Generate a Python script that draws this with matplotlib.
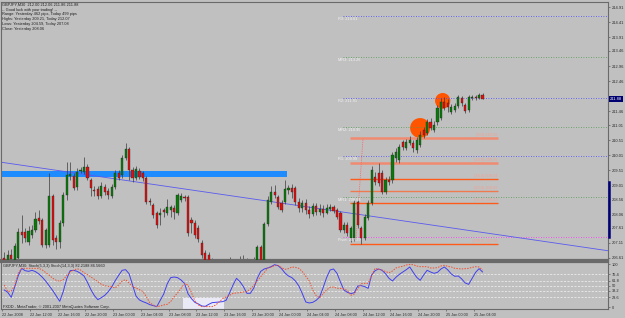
import matplotlib
matplotlib.use('Agg')
import matplotlib.pyplot as plt
import matplotlib.transforms as mtrans
from matplotlib.patches import Ellipse, Rectangle
import numpy as np

# ---------------- data ----------------
opens = [206.61, 206.47, 206.70, 206.54, 206.61, 207.47, 207.47, 207.14, 207.37, 207.53,
         207.93, 207.86, 207.04, 207.04, 208.66, 207.27, 207.14, 207.76, 208.69, 209.32,
         209.32, 208.96, 209.48, 209.45, 209.62, 209.19, 208.86, 208.89, 208.66, 208.96,
         208.82, 208.66, 208.96, 209.42, 209.35, 209.91, 210.21, 209.52, 209.25, 209.48,
         209.42, 209.25, 208.50, 208.36, 208.10, 208.03, 208.20, 208.10, 208.20, 208.27,
         208.10, 208.53, 208.63, 208.63, 207.86, 207.76, 207.60, 207.10, 206.77, 206.70,
         206.47, 206.04, 205.55, 205.22, 204.89, 205.22, 205.55, 205.88, 206.21, 206.47,
         206.27, 206.21, 206.34, 206.54, 206.97, 206.54, 207.73, 208.46, 208.79, 208.63,
         208.43, 208.46, 208.86, 208.92, 208.92, 208.46, 208.27, 208.43, 208.20, 208.06,
         208.33, 208.13, 208.23, 208.10, 208.23, 208.30, 208.20, 208.10, 207.53, 207.70,
         207.27, 207.27, 208.46, 207.60, 207.27, 207.93, 208.43, 209.29, 209.42, 209.42,
         208.79, 209.19, 209.19, 209.91, 209.85, 210.44, 210.24, 210.41, 210.41, 210.18,
         210.34, 210.84, 210.74, 211.10, 210.84, 211.10, 211.24, 211.77, 211.74, 211.44,
         211.50, 211.64, 211.90, 211.67, 211.50, 211.90, 211.93, 211.90, 212.00]
highs = [206.80, 206.87, 206.90, 207.10, 207.60, 208.03, 207.60, 207.67, 207.70, 208.13,
         208.20, 207.93, 207.60, 209.42, 208.73, 207.37, 207.86, 208.79, 209.78, 209.78,
         209.42, 209.58, 209.62, 209.95, 209.71, 209.25, 208.99, 208.99, 209.12, 209.06,
         208.92, 209.06, 209.52, 209.52, 210.01, 210.41, 210.28, 209.62, 209.65, 209.58,
         209.48, 209.32, 208.59, 208.43, 208.17, 208.27, 208.27, 208.56, 208.36, 208.36,
         208.76, 208.76, 208.69, 208.69, 207.96, 207.86, 207.70, 207.20, 206.87, 206.80,
         206.61, 206.14, 205.71, 205.35, 205.35, 206.64, 206.24, 206.47, 206.67, 206.70,
         206.61, 206.54, 206.64, 207.04, 207.04, 207.80, 208.66, 208.99, 209.02, 208.69,
         208.53, 209.19, 209.02, 209.06, 208.99, 208.59, 208.53, 208.56, 208.33, 208.43,
         208.43, 208.40, 208.36, 208.40, 208.40, 208.36, 208.27, 208.17, 207.80, 207.80,
         207.66, 208.53, 208.53, 207.66, 208.06, 208.53, 209.65, 209.45, 209.75, 209.52,
         209.29, 209.32, 210.11, 210.24, 210.38, 210.51, 210.54, 210.64, 210.51, 210.61,
         210.81, 210.94, 211.20, 211.24, 211.14, 211.67, 211.90, 211.93, 211.87, 211.70,
         211.74, 212.00, 211.97, 211.74, 212.00, 212.00, 212.00, 212.07, 212.06]
lows = [206.34, 206.37, 206.44, 206.47, 206.54, 207.10, 207.14, 207.04, 207.27, 207.47,
        207.73, 206.97, 206.94, 206.97, 207.04, 206.90, 206.94, 207.66, 208.53, 209.19,
        208.86, 208.86, 209.42, 209.39, 209.19, 208.66, 208.66, 208.56, 208.59, 208.69,
        208.56, 208.59, 208.89, 209.19, 209.25, 209.85, 209.19, 209.12, 209.19, 209.22,
        209.15, 208.40, 208.36, 207.93, 207.60, 207.70, 207.97, 208.03, 207.97, 207.90,
        208.03, 208.46, 208.50, 207.33, 207.43, 207.27, 207.14, 206.61, 206.47, 206.37,
        205.95, 205.38, 205.05, 204.62, 204.59, 205.05, 205.38, 205.71, 206.01, 206.04,
        205.95, 206.04, 206.14, 206.47, 206.44, 206.47, 207.66, 208.40, 208.59, 208.23,
        208.13, 208.40, 208.73, 208.59, 208.36, 208.13, 208.13, 208.06, 207.93, 207.99,
        208.03, 208.03, 207.96, 208.06, 208.17, 208.10, 207.89, 207.47, 207.43, 207.33,
        207.14, 207.17, 207.60, 207.08, 207.20, 207.86, 208.36, 209.02, 208.99, 208.73,
        208.73, 209.02, 209.09, 209.78, 209.75, 210.18, 210.18, 210.34, 210.11, 210.08,
        210.28, 210.57, 210.67, 210.84, 210.77, 211.00, 211.17, 211.50, 211.44, 211.37,
        211.44, 211.57, 211.64, 211.40, 211.44, 211.84, 211.84, 211.87, 211.86]
closes = [206.47, 206.70, 206.57, 207.00, 207.47, 207.37, 207.27, 207.50, 207.53, 207.90,
          207.83, 207.04, 207.53, 208.66, 207.20, 207.14, 207.76, 208.69, 209.35, 209.39,
          208.92, 209.45, 209.52, 209.62, 209.25, 208.92, 208.82, 208.66, 208.99, 208.79,
          208.69, 208.96, 209.42, 209.25, 209.91, 210.21, 209.52, 209.25, 209.55, 209.29,
          209.25, 208.46, 208.46, 208.03, 207.70, 208.10, 208.13, 208.30, 208.30, 208.13,
          208.69, 208.66, 208.59, 207.43, 207.76, 207.37, 207.24, 206.70, 206.54, 206.47,
          206.04, 205.55, 205.22, 204.89, 205.22, 205.55, 205.88, 206.21, 206.47, 206.27,
          206.21, 206.34, 206.47, 206.97, 206.54, 207.73, 208.53, 208.79, 208.69, 208.30,
          208.20, 208.89, 208.92, 208.79, 208.46, 208.27, 208.43, 208.20, 208.06, 208.33,
          208.13, 208.23, 208.10, 208.27, 208.30, 208.17, 207.96, 207.53, 207.70, 207.43,
          207.60, 208.43, 207.70, 207.27, 207.96, 208.43, 209.52, 209.12, 209.09, 208.79,
          209.19, 209.12, 210.01, 210.11, 210.28, 210.28, 210.44, 210.51, 210.24, 210.51,
          210.67, 210.67, 211.10, 210.90, 211.00, 211.57, 211.77, 211.57, 211.60, 211.60,
          211.64, 211.93, 211.74, 211.47, 211.93, 211.93, 211.90, 212.00, 211.88]

stoch_fast = [40.2, 34.8, 23.2, 47.2, 72.8, 90.6, 85.2, 83.6, 86.0, 82.9,
              77.4, 69.7, 60.4, 49.5, 38.7, 26.3, 13.9, 36.4, 65.8, 85.2,
              86.0, 83.6, 79.0, 72.8, 58.0, 41.0, 27.0, 17.7, 22.4, 27.8,
              36.4, 47.2, 61.9, 74.3, 86.0, 87.5, 78.2, 52.6, 26.3, 17.0,
              13.1, 10.0, 6.1, 3.8, 1.5, 16.2, 30.9, 54.2, 68.9, 70.4,
              68.9, 63.5, 55.7, 31.7, 20.1, 11.5, 7.7, 3.0, 2.2, 6.9,
              10.8, 11.5, 12.3, 13.1, 16.2, 33.2, 51.9, 67.4, 59.6, 48.0,
              32.5, 32.5, 44.9, 67.4, 83.6, 89.1, 91.4, 94.5, 99.1, 96.8,
              89.8, 79.7, 72.8, 68.9, 61.2, 49.5, 31.7, 12.3, 10.0, 11.5,
              16.2, 24.0, 45.7, 68.9, 86.7, 89.1, 79.0, 58.8, 40.2, 34.8,
              31.7, 34.0, 49.5, 50.3, 48.0, 44.1, 75.1, 85.2, 89.1, 86.0,
              78.2, 67.4, 61.2, 69.7, 76.7, 82.1, 87.5, 93.7, 81.3, 69.7,
              62.7, 75.1, 86.0, 82.1, 79.0, 81.3, 89.1, 93.7, 86.7, 77.4,
              72.0, 72.8, 65.8, 56.5, 53.4, 67.4, 81.3, 89.8, 82.22]
stoch_slow = [51.9, 36.4, 37.9, 50.3, 79.0, 90.6, 90.6, 90.6, 90.6, 90.6,
              90.6, 86.7, 80.5, 74.3, 67.4, 62.7, 60.4, 64.2, 73.5, 82.9,
              86.0, 89.8, 86.7, 80.5, 75.9, 70.4, 65.0, 59.6, 53.4, 50.3,
              48.8, 48.0, 44.9, 51.9, 61.2, 64.2, 56.5, 48.0, 44.9, 41.0,
              36.4, 24.7, 10.0, 5.4, 1.5, 3.0, 5.4, 6.9, 13.1, 24.7,
              33.2, 44.1, 54.9, 51.9, 34.0, 14.7, 5.4, 1.5, 1.5, 1.5,
              1.5, 5.4, 12.3, 20.1, 24.0, 27.8, 32.5, 33.2, 34.0, 35.6,
              36.4, 42.5, 51.1, 61.9, 71.2, 80.5, 91.4, 93.7, 96.8, 97.6,
              92.2, 88.3, 89.8, 93.7, 92.9, 90.6, 82.9, 72.0, 61.2, 40.2,
              27.0, 22.4, 31.7, 40.2, 46.4, 47.2, 44.1, 44.1, 42.5, 39.4,
              27.8, 30.9, 43.3, 54.9, 55.7, 55.7, 73.5, 90.6, 88.3, 86.7,
              82.9, 80.5, 84.4, 91.4, 93.7, 95.3, 98.4, 99.5, 99.1, 96.0,
              94.5, 94.5, 94.5, 91.4, 91.4, 92.2, 96.0, 97.6, 95.3, 93.7,
              90.6, 89.8, 89.1, 89.8, 90.6, 92.9, 94.5, 93.7, 86.57]

time_ticks = [0, 8, 16, 24, 32, 40, 48, 56, 64, 72, 80, 88, 96, 104, 112, 120, 128, 136]
time_labels = ["22 Jan 2008", "22 Jan 12:00", "22 Jan 16:00", "22 Jan 20:00", "23 Jan 00:00",
               "23 Jan 04:00", "23 Jan 08:00", "23 Jan 12:00", "23 Jan 16:00", "23 Jan 20:00",
               "24 Jan 00:00", "24 Jan 04:00", "24 Jan 08:00", "24 Jan 12:00", "24 Jan 16:00",
               "24 Jan 20:00", "25 Jan 00:00", "25 Jan 04:00"]
price_ticks = [214.91, 214.41, 213.91, 213.46, 212.96, 212.46, 211.46, 211.01, 210.51,
               210.01, 209.51, 209.01, 208.56, 208.06, 207.61, 207.11, 206.61]
last_price = 211.88
stoch_levels = [76.4, 61.8, 50, 38.2, 23.6]
stoch_ticks = [100, 76.4, 61.8, 50, 38.2, 23.6, 0]
stoch_ticklabels = ["100", "76.4", "61.8", "50", "38.2", "23.6", "0"]

pivot_names = ["R3", "MR3", "R2", "MR2", "R1", "MR1", "Pivot"]
pivot_values = [214.61, 213.26, 211.91, 210.95, 209.99, 208.64, 207.29]
pivot_colors = ['#4a4aff', '#4e9a4e', '#4a4aff', '#4e9a4e', '#4a4aff', '#4e9a4e', '#ff30ff']

fib_levels = [0.0, 23.6, 38.2, 50.0, 61.8, 100.0]
fib_prices = [210.58, 209.75, 209.24, 208.83, 208.42, 207.08]
fib_colors = ['#f08a70', '#f08a70', '#ff5a1a', '#f07a50', '#ff5a1a', '#ff5a1a']
fib_widths = [1.8, 1.8, 1.0, 1.0, 1.0, 1.0]
fib_start, fib_end = 99.8, 142.5
fib_base_x = [101.5, 103.5]
fib_base_y = [207.27, 210.55]

trend_x = [-1.0, 174.2]
trend_y = [209.78, 206.85]
band_x = [-1.0, 81.6]
band_y = [209.30, 209.49]
range_bar = [207.30, 209.12]

circles = [(120.0, 210.91, 5.8, 0.66), (126.5, 211.81, 4.4, 0.52)]
stoch_box = (51.6, 63.4, -4.0, 21.6)

info_lines = ["GBPJPY,M30  212.00 212.06 211.86 211.88",
              "-- Good luck with your trading! --",
              "Range: Yesterday 462 pips, Today 499 pips",
              "Highs: Yesterday 209.21, Today 212.07",
              "Lows: Yesterday 204.59, Today 207.08",
              "Close: Yesterday 208.06"]

# ---------------- figure ----------------
W, H = 625, 318
BG = '#c0c0c0'
plt.rcParams['font.family'] = ['Liberation Sans', 'DejaVu Sans']
fig = plt.figure(figsize=(W / 100, H / 100), dpi=100, facecolor=BG)

def px(l, t, r, b):
    return [l / W, 1 - b / H, (r - l) / W, (b - t) / H]

ax = fig.add_axes(px(1, 2, 608, 259.5))
ax2 = fig.add_axes(px(1, 261.5, 608, 309), sharex=ax)
for a in (ax, ax2):
    a.set_facecolor(BG)
    for s in a.spines.values():
        s.set_color('#6a6a6a')
        s.set_linewidth(0.8)
ax.spines['bottom'].set_linewidth(1.6)
ax2.spines['top'].set_linewidth(1.6)

ax.set_xlim(-0.95, 174.2)
ax.set_ylim(206.56, 215.08)
ax2.set_ylim(-4.0, 106.5)

x = np.arange(len(opens))
o = np.array(opens); c = np.array(closes); h = np.array(highs); l = np.array(lows)

# background objects
ax.add_patch(Rectangle((band_x[0], band_y[0]), band_x[1] - band_x[0], band_y[1] - band_y[0],
                       facecolor='#1e8cff', edgecolor='none', zorder=1))
ax.plot(trend_x, trend_y, color='#5a5af0', lw=0.6, zorder=1.5)
for cx, cy, cw, ch in circles:
    ax.add_patch(Ellipse((cx, cy), cw, ch, facecolor='#ff5500', edgecolor='none', zorder=1.2))
for name, val, col in zip(pivot_names, pivot_values, pivot_colors):
    ax.hlines(val, 97.8, 174.2, colors=col, linestyles=(0, (1.0, 2.0)), lw=0.6, zorder=1.3)
    ax.text(96.3, val - 0.03, f"{name}: {val:.2f}", fontsize=2.8, color='#f6f6f6',
            va='top', ha='left', zorder=4)
for lvl, pr, col, lw in zip(fib_levels, fib_prices, fib_colors, fib_widths):
    ax.hlines(pr, fib_start, fib_end, colors=col, lw=lw, zorder=1.4)
    ax.text(fib_end - 0.3, pr + 0.03, f"({lvl:.1f}) {pr:.2f}", fontsize=2.8, color='#f3a090',
            va='bottom', ha='right', zorder=4)
ax.plot(fib_base_x, fib_base_y, color='#ff6060', lw=0.6, ls=(0, (1, 1.2)), zorder=1.4)

# candles
up = c >= o
body_b = np.minimum(o, c)
body_h = np.maximum(np.abs(c - o), 0.02)
cols = np.where(up, '#0a7a0a', '#e01010')
ax.vlines(x, l, h, color='#3a3a3a', lw=0.5, zorder=2)
ax.bar(x, body_h, bottom=body_b, width=0.62, color=cols, edgecolor='#262626',
       linewidth=0.25, zorder=3)

# right price axis
ax.yaxis.tick_right()
ax.set_yticks(price_ticks)
ax.set_yticklabels([f"{p:.2f}" for p in price_ticks])
ax.tick_params(axis='y', labelsize=2.9, length=1.5, width=0.4, pad=1, colors='#404040',
               labelcolor='#2a2a2a')
ax.tick_params(axis='x', bottom=False, labelbottom=False)
blend = mtrans.blended_transform_factory(ax.transAxes, ax.transData)
ax.plot([1.0015, 1.0015], range_bar, transform=blend, clip_on=False, color='#00007a',
        lw=1.8, zorder=5)
ax.text(1.003, last_price, f"{last_price:.2f}", transform=blend, fontsize=2.9, color='white',
        va='center', ha='left', zorder=6,
        bbox=dict(boxstyle='square,pad=0.25', fc='#000070', ec='none'))

# stochastic panel
ax2.add_patch(Rectangle((stoch_box[0], stoch_box[2]), stoch_box[1] - stoch_box[0],
                        stoch_box[3] - stoch_box[2], facecolor='#eaeaf6', edgecolor='none',
                        zorder=1))
for lv in stoch_levels:
    ax2.axhline(lv, color='#f4f4f4', lw=0.5, ls=(0, (3, 2)), zorder=1.5)
ax2.plot(x, stoch_fast, color='#4040f0', lw=0.7, zorder=3)
ax2.plot(x, stoch_slow, color='#f05030', lw=0.7, ls=(0, (1.5, 1.3)), zorder=3)
ax2.yaxis.tick_right()
ax2.set_yticks(stoch_ticks)
ax2.set_yticklabels(stoch_ticklabels)
ax2.tick_params(axis='y', labelsize=2.8, length=1.5, width=0.4, pad=1, colors='#404040',
                labelcolor='#2a2a2a')
ax2.set_xticks([t - 0.6 for t in time_ticks])
ax2.set_xticklabels(time_labels, ha='left')
ax2.tick_params(axis='x', labelsize=2.7, length=1.5, width=0.4, pad=1.2, colors='#404040',
                labelcolor='#2a2a2a')

# texts
for i, line in enumerate(info_lines):
    fig.text(2.5 / W, 1 - (4.7 + 4.9 * i) / H, line, fontsize=2.8, color='#1e1e1e',
             va='center', ha='left')
fig.text(3 / W, 1 - 265.8 / H, "GBPJPY,M30: Stoch(5,3,3) Stoch(14,3,3) 82.2188 86.5660",
         fontsize=2.8, color='#1e1e1e', va='center', ha='left')
fig.text(3 / W, 1 - 306.6 / H, "FXDD - MetaTrader, \u00a9 2001-2007 MetaQuotes Software Corp.",
         fontsize=2.8, color='#1e1e1e', va='center', ha='left')

fig.savefig('out.png', dpi=100, facecolor=BG)
